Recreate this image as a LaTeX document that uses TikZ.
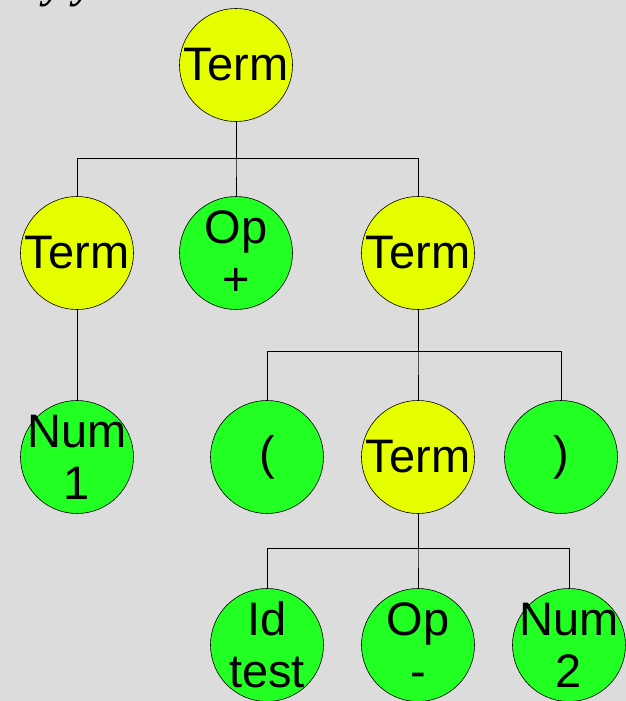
\documentclass[tikz,border=0pt]{standalone}
\usepackage{fontspec}
\setmainfont{Liberation Sans}
\newfontfamily\titleserif{Liberation Serif}
\begin{document}
\begin{tikzpicture}[x=1pt,y=-1pt,
  bgcol/.style={fill={rgb,255:red,220;green,220;blue,220}},
  nonterm/.style={circle,draw=black,line width=0.6pt,minimum size=113pt,inner sep=0pt,
    fill={rgb,255:red,230;green,255;blue,0}},
  token/.style={circle,draw=black,line width=0.6pt,minimum size=113pt,inner sep=0pt,
    fill={rgb,255:red,34;green,255;blue,34}},
  lbl/.style={align=center,inner sep=0pt,font=\fontsize{47}{52}\selectfont},
  edge/.style={draw=black,line width=0.8pt}]
% canvas
\path[bgcol] (0,0) rectangle (626,701);
\useasboundingbox (0,0) rectangle (626,701);

% heading text, mostly above the visible area
\node[anchor=base west,inner sep=0pt,font=\titleserif\bfseries\itshape\fontsize{44}{44}\selectfont] (head) at (44,-2) {y y};

% rail heights of the bracket connectors
\coordinate (bar1) at (0,158);
\coordinate (bar2) at (0,351);
\coordinate (bar3) at (0,548);

% nodes
\node[nonterm] (t0) at (236,65) {};
\node[nonterm] (t1) at (77,253) {};
\node[token]   (op1) at (236,253) {};
\node[nonterm] (t2) at (418,253) {};
\node[token]   (num1) at (77,457) {};
\node[token]   (lp) at (267,457) {};
\node[nonterm] (t3) at (418,457) {};
\node[token]   (rp) at (561,457) {};
\node[token]   (id) at (267,645) {};
\node[token]   (op2) at (418,645) {};
\node[token]   (num2) at (569,645) {};

% connectors
\draw[edge] (t0.south) -- (t0.south |- bar1) -| (t1.north);
\draw[edge] (t0.south) -- (t0.south |- bar1) -| (op1.north);
\draw[edge] (t0.south) -- (t0.south |- bar1) -| (t2.north);
\draw[edge] (t1.south) -- (num1.north);
\draw[edge] (t2.south) -- (t2.south |- bar2) -| (lp.north);
\draw[edge] (t2.south) -- (t2.south |- bar2) -| (t3.north);
\draw[edge] (t2.south) -- (t2.south |- bar2) -| (rp.north);
\draw[edge] (t3.south) -- (t3.south |- bar3) -| (id.north);
\draw[edge] (t3.south) -- (t3.south |- bar3) -| (op2.north);
\draw[edge] (t3.south) -- (t3.south |- bar3) -| (num2.north);

% labels
\node[lbl] at (t0) {Term};
\node[lbl] at (t1) {Term};
\node[lbl] at (op1) {Op\\+};
\node[lbl] at (t2) {Term};
\node[lbl] at (num1) {Num\\1};
\node[lbl] at (lp) {(};
\node[lbl] at (t3) {Term};
\node[lbl] at (rp) {)};
\node[lbl] at (id) {Id\\test};
\node[lbl] at (op2) {Op\\-};
\node[lbl] at (num2) {Num\\2};
\end{tikzpicture}
\end{document}
